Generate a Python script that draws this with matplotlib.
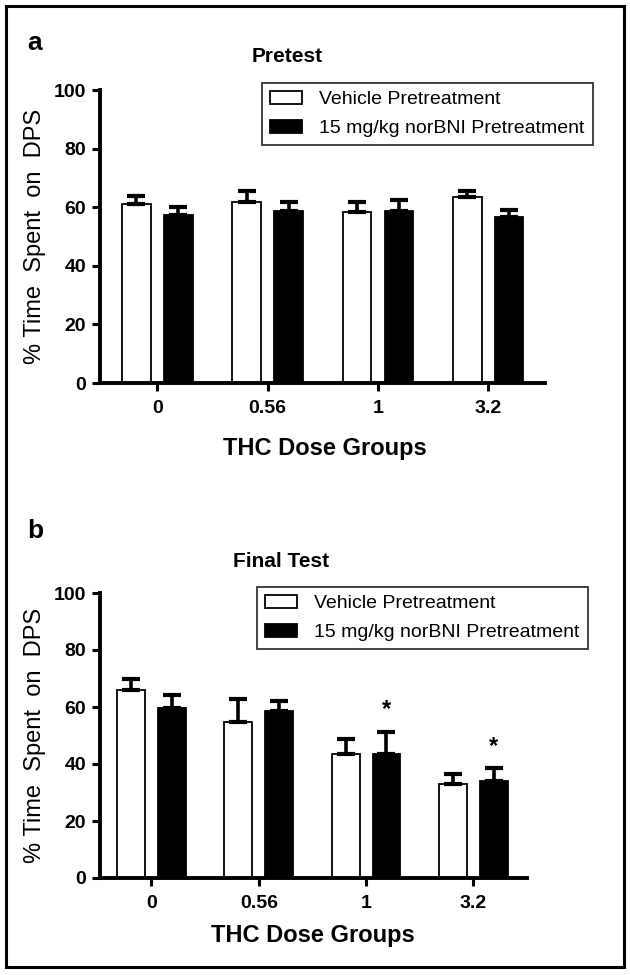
import matplotlib
matplotlib.use("Agg")
import matplotlib.pyplot as plt
from matplotlib.patches import Rectangle, Patch
import numpy as np

plt.rcParams['font.family'] = ['Liberation Sans', 'DejaVu Sans']

doses = ["0", "0.56", "1", "3.2"]
series_names = ["Vehicle Pretreatment", "15 mg/kg norBNI Pretreatment"]

pre_vehicle = [61.1, 61.7, 58.3, 63.4]
pre_vehicle_err = [2.6, 3.7, 3.5, 2.0]
pre_norbni = [57.4, 58.8, 58.8, 56.8]
pre_norbni_err = [2.6, 3.1, 3.7, 2.1]

fin_vehicle = [65.9, 54.7, 43.6, 33.0]
fin_vehicle_err = [3.9, 8.1, 5.1, 3.4]
fin_norbni = [59.7, 58.7, 43.6, 34.1]
fin_norbni_err = [4.5, 3.5, 7.6, 4.4]
fin_sig = [False, False, True, True]

W, H = 630, 975
fig = plt.figure(figsize=(W / 100, H / 100), dpi=100)
fig.patches.append(Rectangle((6 / W, 1 - 967 / H), 618 / W, 961 / H, transform=fig.transFigure,
                             fill=False, edgecolor='black', linewidth=2.2, zorder=10))


def panel(px_left, px_top, px_w, px_h, veh, veh_err, nor, nor_err, title, letter,
          letter_px, title_px, xlim, leg_px, xlab_off, xlab_cx, sig=None):
    ax = fig.add_axes([px_left / W, 1 - (px_top + px_h) / H, px_w / W, px_h / H])
    x = np.arange(len(doses))
    w = 0.26
    off = 0.19
    kw = dict(ecolor='black', capsize=6.5, elinewidth=2.6, capthick=3)
    ax.bar(x - off, veh, w, color='white', edgecolor='black', linewidth=1.3,
           yerr=[np.zeros(4), veh_err], error_kw=kw, zorder=2)
    ax.bar(x + off, nor, w, color='black', edgecolor='black', linewidth=1.3,
           yerr=[np.zeros(4), nor_err], error_kw=kw, zorder=2)
    if sig is not None:
        for i, s in enumerate(sig):
            if s:
                ax.text(x[i] + off, nor[i] + nor_err[i] + 5.5, '*', ha='center', va='baseline',
                        fontsize=17, fontweight='bold')
    ax.set_ylim(0, 100)
    ax.set_xlim(*xlim)
    ax.set_yticks([0, 20, 40, 60, 80, 100])
    ax.set_xticks(x)
    ax.set_xticklabels(doses)
    for s in ['top', 'right']:
        ax.spines[s].set_visible(False)
    for s in ['left', 'bottom']:
        ax.spines[s].set_linewidth(2.8)
    ax.tick_params(axis='both', width=2.2, length=6, labelsize=14)
    ax.tick_params(axis='x', pad=6)
    ax.tick_params(axis='y', pad=4)
    for lab in ax.get_xticklabels() + ax.get_yticklabels():
        lab.set_fontweight('bold')
    ax.set_ylabel('% Time  Spent  on  DPS', fontsize=17)
    ax.yaxis.set_label_coords(-54 / px_w, 0.5)
    ax.set_xlabel('THC Dose Groups', fontsize=17, fontweight='bold')
    ax.xaxis.set_label_coords((xlab_cx - px_left) / px_w, -xlab_off / px_h)
    ax.xaxis.label.set_verticalalignment('baseline')
    fig.text(title_px[0] / W, 1 - title_px[1] / H, title, fontsize=15, fontweight='bold',
             ha='center', va='baseline')
    fig.text(letter_px[0] / W, 1 - letter_px[1] / H, letter, fontsize=19, fontweight='bold',
             ha='left', va='baseline')
    handles = [Patch(facecolor='white', edgecolor='black', linewidth=1.3),
               Patch(facecolor='black', edgecolor='black', linewidth=1.3)]
    leg = fig.legend(handles, series_names, loc='upper left',
                     bbox_to_anchor=(leg_px[0] / W, 1 - leg_px[1] / H),
                     bbox_transform=fig.transFigure, fontsize=14, frameon=True, fancybox=False,
                     edgecolor='black', handlelength=1.65, handleheight=0.65, borderpad=0.4,
                     labelspacing=0.6, handletextpad=0.9, borderaxespad=0)
    leg.get_frame().set_linewidth(1.3)
    return ax


panel(100, 90, 445, 293, pre_vehicle, pre_vehicle_err, pre_norbni, pre_norbni_err,
      'Pretest', 'a', (27, 50), (287, 62), (-0.52, 3.515), (262, 83), 72, 325)
panel(100, 593, 427, 285, fin_vehicle, fin_vehicle_err, fin_norbni, fin_norbni_err,
      'Final Test', 'b', (27, 538), (281, 567), (-0.48, 3.5), (257, 587), 64, 313, sig=fin_sig)

fig.savefig('out.png', dpi=100)
